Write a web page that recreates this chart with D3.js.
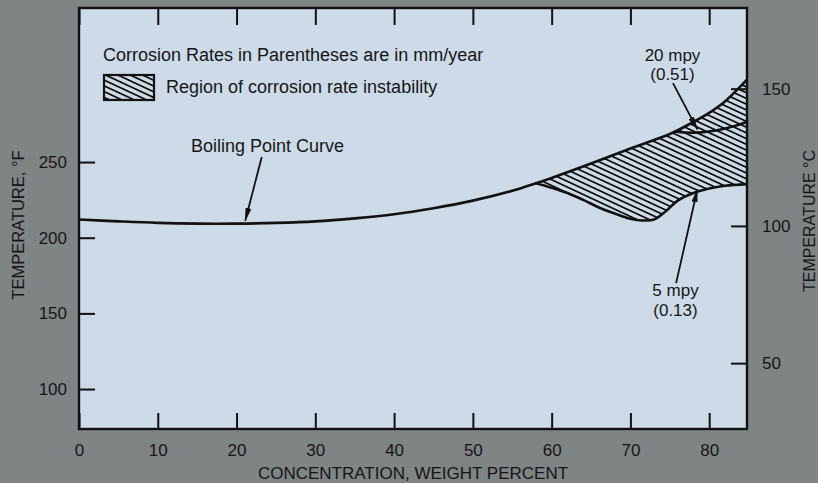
<!DOCTYPE html>
<html>
<head>
<meta charset="utf-8">
<script src="https://cdn.jsdelivr.net/npm/d3@7"></script>
<style>
  html, body { margin: 0; padding: 0; background: #7f8484; }
  svg { display: block; }
  text { font-family: "Liberation Sans", Arial, sans-serif; fill: #161616; }
</style>
</head>
<body>
<div class="canvas"></div>
<script>
// tick values
const concTicks = [0, 10, 20, 30, 40, 50, 60, 70, 80];
const tempFTicks = [100, 150, 200, 250];
const tempCTicks = [50, 100, 150];

// boiling point curve (wt %, deg F)
const boilConc = [0, 5, 10, 15, 20, 25, 30, 35, 40, 45, 50, 55, 58, 60, 65, 70, 75, 78, 80, 82, 85];
const boilTemp = [212, 210.8, 209.8, 209.3, 209.3, 209.8, 210.8, 212.8, 215.5, 219.5, 224.5, 231, 236, 239.5, 249, 259, 268.5, 276.5, 282.5, 290, 305.5];

// 5 mpy iso-corrosion line (lower edge of unstable region)
const fiveConc = [58, 60, 62, 64, 66, 68, 70, 71.5, 73, 74.5, 76, 78, 80, 82, 85];
const fiveTemp = [236, 233, 229.5, 225, 220, 216, 212.5, 211.4, 212, 217.5, 224.5, 229.5, 232.5, 234.3, 235.5];

// 20 mpy iso-corrosion line
const twentyConc = [75.6, 77, 79, 81, 83, 85];
const twentyTemp = [270.2, 269.5, 269.6, 271, 273.5, 277];

// arrows: [tail conc, tail temp, tip conc, tip temp]
const arrowBoil = [23.2, 253.3, 21.1, 211.2];
const arrowTwenty = [75.4, 302.2, 78.5, 271.6];
const arrowFive = [75.8, 170, 78.5, 232];

const W = 818, H = 483;
const plot = { left: 79, top: 8, right: 747, bottom: 429 };
const plotBg = '#cddbe8';
const ink = '#111';

const svg = d3.select('.canvas').append('svg')
    .attr('width', W)
    .attr('height', H);

const x = d3.scaleLinear().domain([0, 84.8]).range([plot.left, plot.right]);
const yF = d3.scaleLinear().domain([73.6, 351.8]).range([plot.bottom, plot.top]);
const yC = d3.scaleLinear().domain([26, 179.4]).range([plot.bottom, plot.top]);

const defs = svg.append('defs');

defs.append('clipPath').attr('id', 'clip')
  .append('rect')
    .attr('x', plot.left).attr('y', plot.top)
    .attr('width', plot.right - plot.left)
    .attr('height', plot.bottom - plot.top);

const hatch = defs.append('pattern')
    .attr('id', 'hatch')
    .attr('patternUnits', 'userSpaceOnUse')
    .attr('width', 10).attr('height', 5.2)
    .attr('patternTransform', 'rotate(25)');
hatch.append('rect').attr('width', 10).attr('height', 5.2).attr('fill', plotBg);
hatch.append('line')
    .attr('x1', 0).attr('x2', 10).attr('y1', 2.6).attr('y2', 2.6)
    .attr('stroke', ink).attr('stroke-width', 1.7);

defs.append('marker')
    .attr('id', 'arrow')
    .attr('viewBox', '0 0 14 6')
    .attr('refX', 13).attr('refY', 3)
    .attr('markerWidth', 14).attr('markerHeight', 6)
    .attr('markerUnits', 'userSpaceOnUse')
    .attr('orient', 'auto')
  .append('path')
    .attr('d', 'M0,0L14,3L0,6Z')
    .attr('fill', ink);

// plot background
svg.append('rect')
    .attr('x', plot.left).attr('y', plot.top)
    .attr('width', plot.right - plot.left)
    .attr('height', plot.bottom - plot.top)
    .attr('fill', plotBg);

const line = d3.line()
    .x(d => x(d[0]))
    .y(d => yF(d[1]))
    .curve(d3.curveCatmullRom.alpha(0.5));

const boil = d3.zip(boilConc, boilTemp);
const five = d3.zip(fiveConc, fiveTemp);
const twenty = d3.zip(twentyConc, twentyTemp);

const curves = svg.append('g').attr('clip-path', 'url(#clip)');

// hatched region between boiling curve and 5 mpy line
const upperEdge = line(boil.filter(d => d[0] >= fiveConc[0]));
const lowerEdge = line(five.slice().reverse());
curves.append('path')
    .attr('d', upperEdge + 'L' + lowerEdge.slice(1) + 'Z')
    .attr('fill', 'url(#hatch)');

[five, twenty, boil].forEach(pts => {
    curves.append('path')
        .attr('d', line(pts))
        .attr('fill', 'none')
        .attr('stroke', ink)
        .attr('stroke-width', 2.6)
        .attr('stroke-linejoin', 'round');
});

// axes
const styleAxis = g => {
    g.select('.domain').remove();
    g.selectAll('.tick line').attr('stroke', ink).attr('stroke-width', 2);
    g.selectAll('.tick text')
        .attr('fill', '#161616')
        .style('font-size', '17px')
        .style('font-family', '"Liberation Sans", Arial, sans-serif');
};

svg.append('g')
    .attr('transform', `translate(0,${plot.bottom})`)
    .call(d3.axisBottom(x).tickValues(concTicks).tickSizeInner(-16).tickSizeOuter(0).tickPadding(15))
    .call(styleAxis);

svg.append('g')
    .attr('transform', `translate(0,${plot.top})`)
    .call(d3.axisTop(x).tickValues(concTicks).tickSizeInner(-17).tickSizeOuter(0).tickFormat(''))
    .call(styleAxis);

svg.append('g')
    .attr('transform', `translate(${plot.left},0)`)
    .call(d3.axisLeft(yF).tickValues(tempFTicks).tickSizeInner(-16).tickSizeOuter(0).tickPadding(12))
    .call(styleAxis);

svg.append('g')
    .attr('transform', `translate(${plot.right},0)`)
    .call(d3.axisRight(yC).tickValues(tempCTicks).tickSizeInner(-16).tickSizeOuter(0).tickPadding(15))
    .call(styleAxis);

// frame
svg.append('rect')
    .attr('x', plot.left).attr('y', plot.top)
    .attr('width', plot.right - plot.left)
    .attr('height', plot.bottom - plot.top)
    .attr('fill', 'none')
    .attr('stroke', ink)
    .attr('stroke-width', 2.4);

// axis titles
svg.append('text')
    .attr('x', (plot.left + plot.right) / 2).attr('y', 478.5)
    .attr('text-anchor', 'middle')
    .style('font-size', '17px')
    .text('CONCENTRATION, WEIGHT PERCENT');

svg.append('text')
    .attr('transform', 'translate(24,225) rotate(-90)')
    .attr('text-anchor', 'middle')
    .style('font-size', '16.5px')
    .text('TEMPERATURE, °F');

svg.append('text')
    .attr('transform', 'translate(814.5,221) rotate(-90)')
    .attr('text-anchor', 'middle')
    .style('font-size', '16px')
    .text('TEMPERATURE °C');

// legend / notes
svg.append('text')
    .attr('x', 103).attr('y', 60.5)
    .style('font-size', '18px')
    .text('Corrosion Rates in Parentheses are in mm/year');

svg.append('rect')
    .attr('x', 104).attr('y', 75)
    .attr('width', 50).attr('height', 25)
    .attr('fill', 'url(#hatch)')
    .attr('stroke', ink)
    .attr('stroke-width', 2.2);

svg.append('text')
    .attr('x', 166).attr('y', 93.3)
    .style('font-size', '18px')
    .text('Region of corrosion rate instability');

// annotations
const label = (cx, ys, lines, size) => {
    lines.forEach((t, i) => {
        svg.append('text')
            .attr('x', cx).attr('y', ys[i])
            .attr('text-anchor', 'middle')
            .style('font-size', size)
            .text(t);
    });
};
label(267.5, [151.5], ['Boiling Point Curve'], '18px');
label(672.5, [60.5, 80], ['20 mpy', '(0.51)'], '17px');
label(675.5, [296, 315.5], ['5 mpy', '(0.13)'], '17px');

[arrowBoil, arrowTwenty, arrowFive].forEach(a => {
    svg.append('line')
        .attr('x1', x(a[0])).attr('y1', yF(a[1]))
        .attr('x2', x(a[2])).attr('y2', yF(a[3]))
        .attr('stroke', ink)
        .attr('stroke-width', 1.8)
        .attr('marker-end', 'url(#arrow)');
});
</script>
</body>
</html>
